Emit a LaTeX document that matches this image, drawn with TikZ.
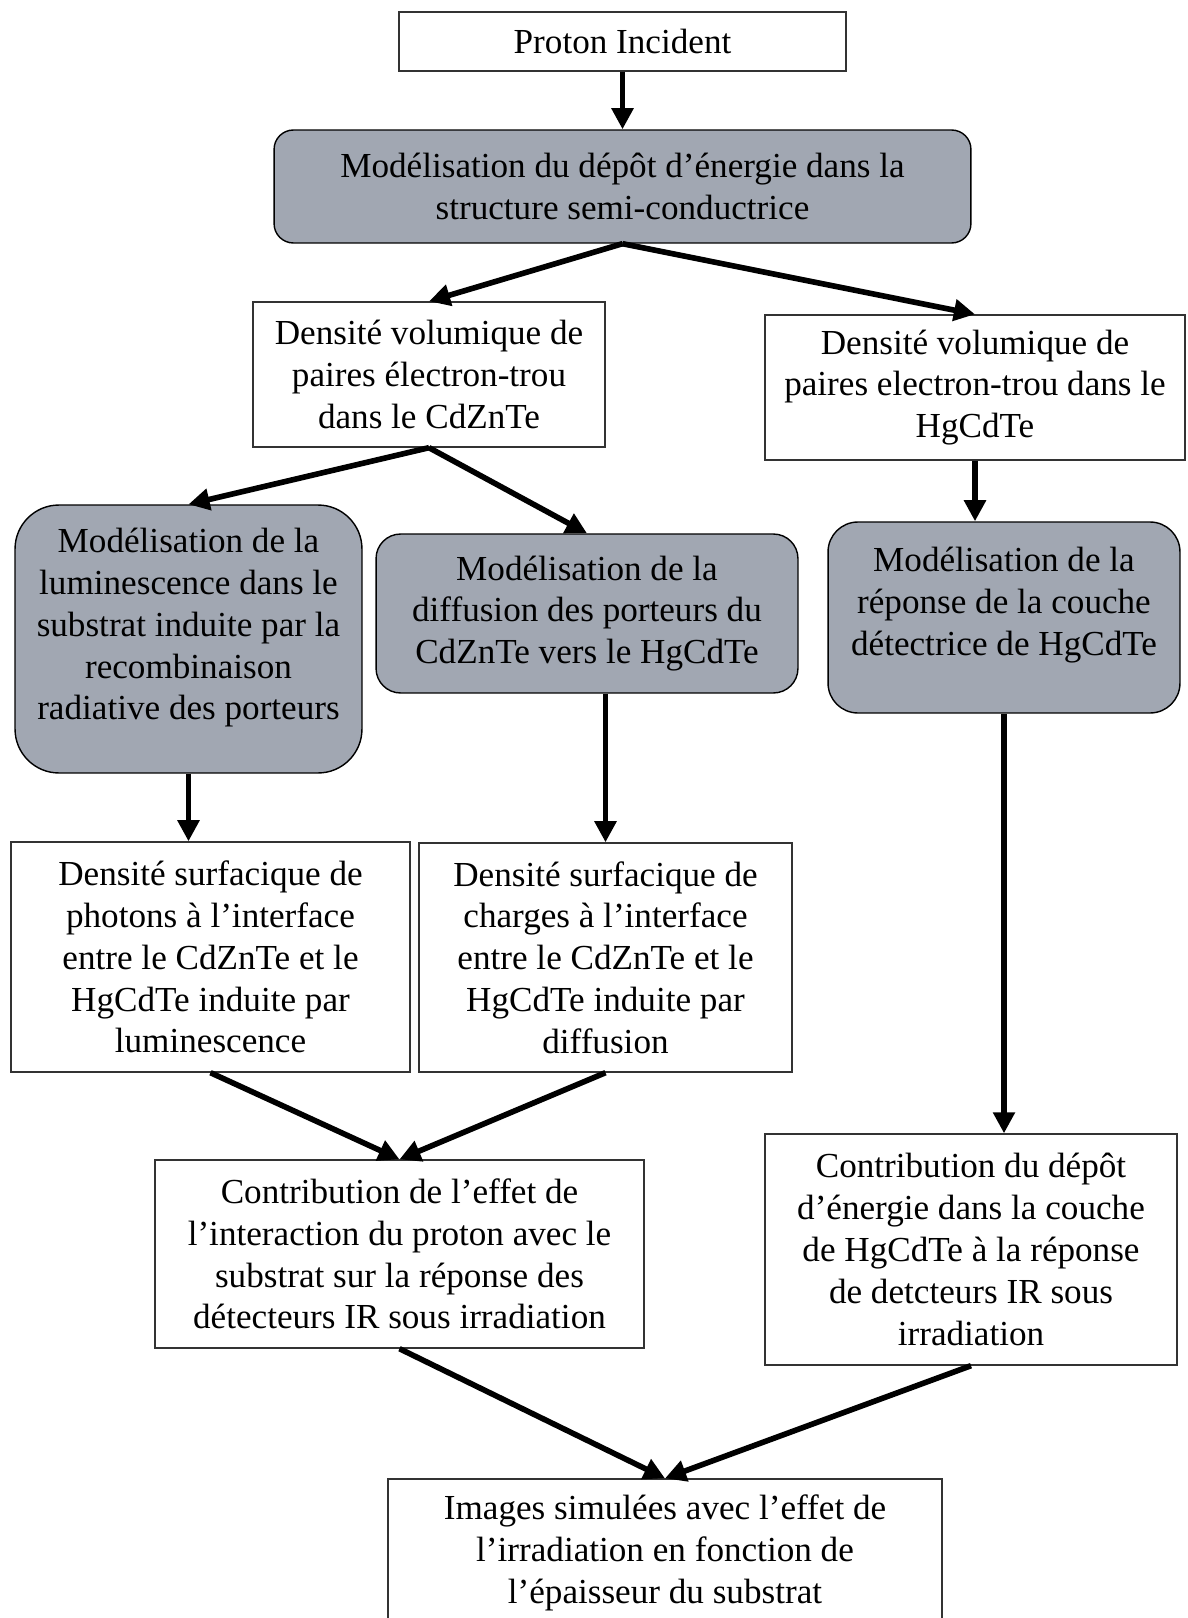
\documentclass[tikz,border=0pt]{standalone}
\usepackage{fontspec}
\setmainfont{Liberation Serif}
\usetikzlibrary{arrows.meta}
\definecolor{boxgrey}{RGB}{161,167,178}
\begin{document}
\begin{tikzpicture}[x=0.02cm, y=-0.02cm,
  plainbox/.style={draw=black!80, line width=0.8pt, fill=white, align=center, inner sep=0pt, font=\fontsize{20}{23.8}\selectfont},
  greybox/.style={plainbox, draw=black, fill=boxgrey, rounded corners=#1},
  link/.style={-{Triangle[length=12pt,width=12pt]}, line width=3.2pt}]
\useasboundingbox (0,0) rectangle (1187,1618);
\node [plainbox, minimum width=8.94cm, minimum height=1.18cm] (proton) at (622.5,41.5) {Proton Incident};
\node [greybox=11pt, minimum width=13.94cm, minimum height=2.26cm] (depot) at (622.5,186.5) {Modélisation du dépôt d’énergie dans la\\structure semi-conductrice};
\node [plainbox, minimum width=7.04cm, minimum height=2.9cm] (volCZT) at (429,374.5) {Densité volumique de\\paires électron-trou\\dans le CdZnTe};
\node [plainbox, minimum width=8.4cm, minimum height=2.9cm] (volHCT) at (975,387.5) {Densité volumique de\\paires electron-trou dans le\\HgCdTe};
\node [greybox=25pt, minimum width=6.94cm, minimum height=5.36cm] (lumi) at (188.5,639) {Modélisation de la\\luminescence dans le\\substrat induite par la\\recombinaison\\radiative des porteurs\rule[-0.6cm]{0pt}{0pt}};
\node [greybox=14pt, minimum width=8.44cm, minimum height=3.18cm] (diffu) at (587,613.5) {Modélisation de la\\diffusion des porteurs du\\CdZnTe vers le HgCdTe};
\node [greybox=17pt, minimum width=7.04cm, minimum height=3.82cm] (reponse) at (1004,617.5) {Modélisation de la\\réponse de la couche\\détectrice de HgCdTe\rule[-0.65cm]{0pt}{0pt}};
\node [plainbox, minimum width=7.98cm, minimum height=4.6cm] (photons) at (210.5,957) {Densité surfacique de\\photons à l’interface\\entre le CdZnTe et le\\HgCdTe induite par\\luminescence};
\node [plainbox, minimum width=7.46cm, minimum height=4.58cm] (charges) at (605.5,957.5) {Densité surfacique de\\charges à l’interface\\entre le CdZnTe et le\\HgCdTe induite par\\diffusion};
\node [plainbox, minimum width=9.78cm, minimum height=3.76cm] (contribS) at (399.5,1254) {Contribution de l’effet de\\l’interaction du proton avec le\\substrat sur la réponse des\\détecteurs IR sous irradiation};
\node [plainbox, minimum width=8.24cm, minimum height=4.62cm] (contribH) at (971,1249.5) {Contribution du dépôt\\d’énergie dans la couche\\de HgCdTe à la réponse\\de detcteurs IR sous\\irradiation};
\node [plainbox, minimum width=11.08cm, minimum height=2.96cm] (images) at (665,1553) {Images simulées avec l’effet de\\l’irradiation en fonction de\\l’épaisseur du substrat};
% arrows
\draw [link] (proton) -- (depot);
\draw [link] (depot.south) -- (volCZT.north);
\draw [link] (depot.south) -- (volHCT.north);
\draw [link] (volCZT.south) -- (lumi.north);
\draw [link] (volCZT.south) -- (diffu.north);
\draw [link] (volHCT.south) -- (volHCT.south |- reponse.north);
\draw [link] (lumi.south) -- (lumi.south |- photons.north);
\draw [link] (charges.north |- diffu.south) -- (charges.north);
\draw [link] (reponse.south) -- (reponse.south |- contribH.north);
\draw [link] (photons.south) -- (contribS.north);
\draw [link] (charges.south) -- (contribS.north);
\draw [link] (contribS.south) -- (images.north);
\draw [link] (contribH.south) -- (images.north);
\end{tikzpicture}
\end{document}
